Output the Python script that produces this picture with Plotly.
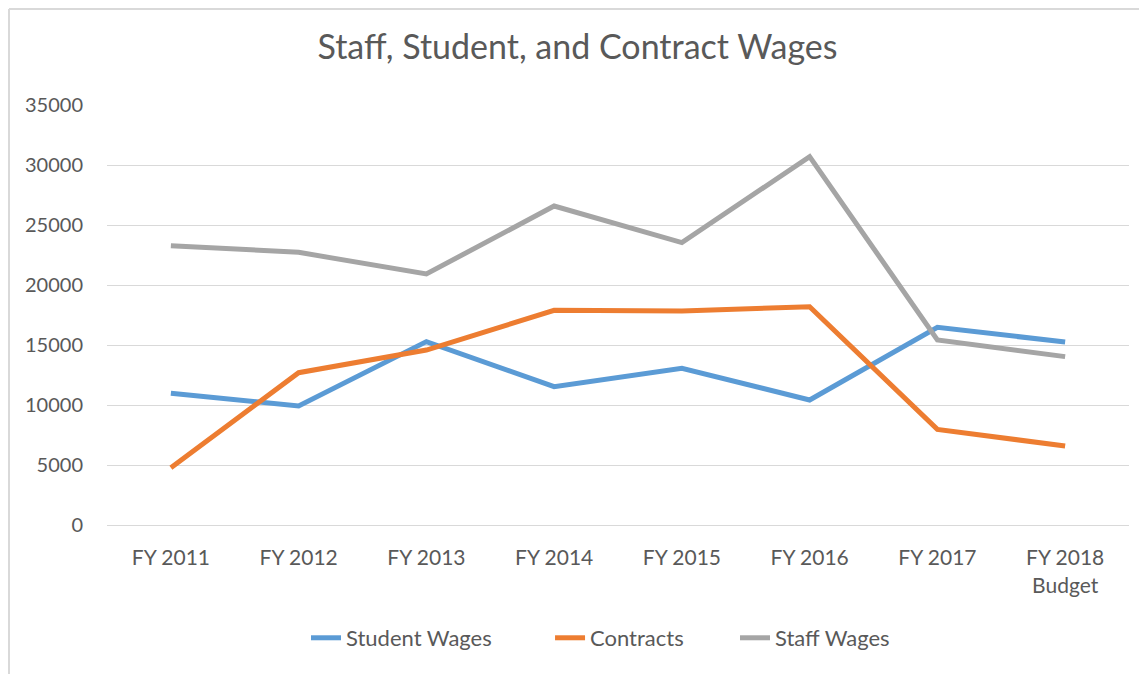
import plotly.graph_objects as go

years = ["FY 2011", "FY 2012", "FY 2013", "FY 2014", "FY 2015", "FY 2016", "FY 2017", "FY 2018<br>Budget"]
student_wages = [10970, 9920, 15280, 11530, 13060, 10420, 16470, 15250]
contracts = [4780, 12690, 14580, 17890, 17830, 18190, 7970, 6580]
staff_wages = [23280, 22720, 20920, 26580, 23530, 30700, 15420, 14030]

font_name = "Lato"
txt = "#595959"

series = [("Student Wages", student_wages, "#5B9BD5", "legend"),
          ("Contracts", contracts, "#ED7D31", "legend2"),
          ("Staff Wages", staff_wages, "#A5A5A5", "legend3")]

fig = go.Figure()
for name, vals, col, leg in series:
    fig.add_trace(go.Scatter(x=years, y=vals, mode="lines", name=name, legend=leg,
                             line=dict(color=col, width=5)))

# one legend per series so the entries can be spaced like the original
leg_style = dict(orientation="h", y=-0.269, yanchor="middle", xanchor="left",
                 font=dict(size=22, color=txt), bgcolor="rgba(0,0,0,0)")

# page body has an 8px margin, so the figure is a bit smaller than the window
fig.update_layout(
    width=1139, height=666,
    margin=dict(l=99, r=18, t=97, b=149),
    paper_bgcolor="white", plot_bgcolor="white",
    font=dict(family=font_name, color=txt, size=21),
    title=dict(text="Staff, Student, and Contract Wages", x=0.5, xanchor="center",
               y=0.941, yanchor="middle", font=dict(size=34, color=txt)),
    showlegend=True,
    legend=dict(x=0.1947, **leg_style),
    legend2=dict(x=0.4335, **leg_style),
    legend3=dict(x=0.6145, **leg_style),
    shapes=[
        dict(type="line", xref="paper", yref="paper", x0=-0.0959, x1=-0.0959, y0=-0.5, y1=1.2286,
             line=dict(color="#D9D9D9", width=2)),
        dict(type="line", xref="paper", yref="paper", x0=-0.0959, x1=1.2, y0=1.2286, y1=1.2286,
             line=dict(color="#D9D9D9", width=2)),
    ],
)
fig.update_xaxes(range=[-0.5, 7.5], showgrid=False, showline=True, linecolor="#D9D9D9", linewidth=1,
                 ticks="", ticklabelstandoff=14, tickfont=dict(size=21, color=txt))
fig.update_yaxes(range=[0, 35000], dtick=5000, showgrid=True, gridcolor="#D9D9D9", gridwidth=1,
                 zeroline=False, showline=False, ticks="", ticklabelstandoff=23,
                 tickformat="d", tickfont=dict(size=20, color=txt))

fig.write_html("out.html")
